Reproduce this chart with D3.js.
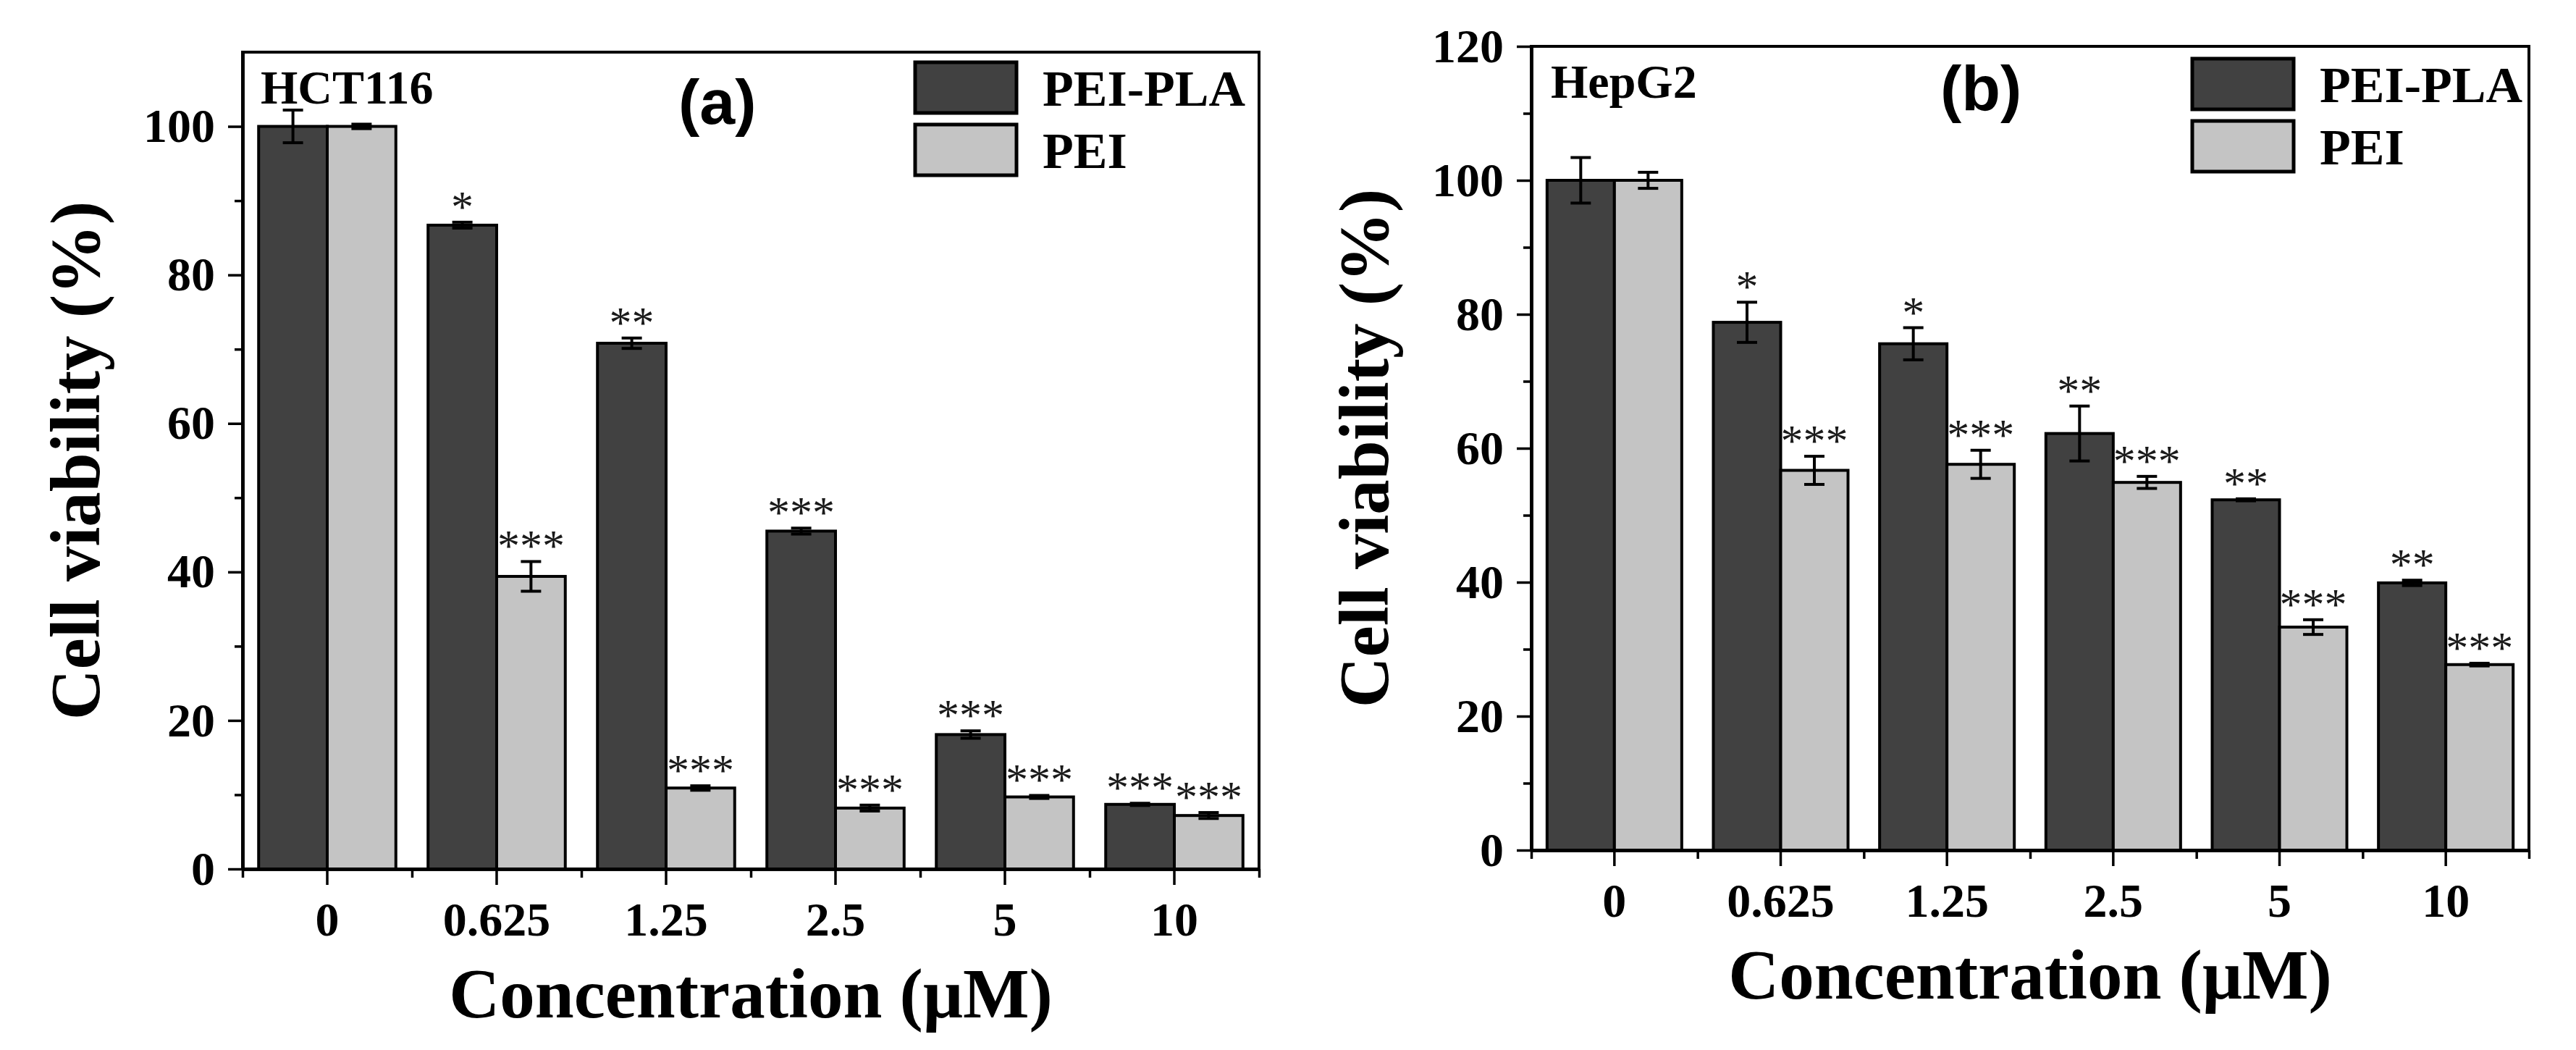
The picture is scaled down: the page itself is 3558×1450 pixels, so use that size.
<!DOCTYPE html>
<html>
<head>
<meta charset="utf-8">
<title>Cell viability</title>
<style>
  body { margin: 0; background: #fff; }
  svg { display: block; }
  .serif { font-family: "Liberation Serif", "Times New Roman", serif; }
</style>
</head>
<body>
<script src="https://cdnjs.cloudflare.com/ajax/libs/d3/7.8.5/d3.min.js"></script>
<script>

// ---- data ----
var concentrations = ["0", "0.625", "1.25", "2.5", "5", "10"];
var seriesNames = ["PEI-PLA", "PEI"];

// (a) HCT116
var hctPeiPla    = [100, 86.7, 70.8, 45.5, 18.1, 8.7];
var hctPeiPlaErr = [2.2, 0.4, 0.7, 0.4, 0.5, 0.15];
var hctPei       = [100, 39.4, 10.9, 8.2, 9.7, 7.2];
var hctPeiErr    = [0.3, 2.0, 0.3, 0.4, 0.2, 0.4];
var hctPeiPlaSig = ["", "*", "**", "***", "***", "***"];
var hctPeiSig    = ["", "***", "***", "***", "***", "***"];

// (b) HepG2
var hepPeiPla    = [100, 78.8, 75.6, 62.2, 52.3, 39.9];
var hepPeiPlaErr = [3.4, 3.0, 2.4, 4.1, 0.15, 0.4];
var hepPei       = [100, 56.7, 57.6, 54.9, 33.3, 27.7];
var hepPeiErr    = [1.2, 2.1, 2.1, 0.9, 1.1, 0.2];
var hepPeiPlaSig = ["", "*", "*", "**", "**", "**"];
var hepPeiSig    = ["", "***", "***", "***", "***", "***"];

var yTicksA = [0, 20, 40, 60, 80, 100];
var yTicksB = [0, 20, 40, 60, 80, 100, 120];

var colors = {"PEI-PLA": "#414141", "PEI": "#c4c4c4"};

var W = 3558, H = 1450;

var svg = d3.select("body").append("svg")
    .attr("width", W)
    .attr("height", H)
    .attr("class", "serif");

function rows(vals, errs, sigs, name) {
    return concentrations.map(function(c, i) {
        return {conc: c, series: name, v: vals[i], e: errs[i], sig: sigs[i]};
    });
}

function drawPanel(p) {
    var w = p.right - p.left, h = p.bottom - p.top;
    var g = svg.append("g").attr("transform", "translate(" + p.left + "," + p.top + ")");

    var x = d3.scaleBand()
        .domain(concentrations)
        .range([0, w])
        .paddingInner(0.19)
        .paddingOuter(0.095);
    var xs = d3.scaleBand()
        .domain(seriesNames)
        .range([0, x.bandwidth()]);
    var y = d3.scaleLinear()
        .domain([0, p.yMax])
        .range([h, 0]);

    var data = rows(p.a, p.aErr, p.aSig, seriesNames[0])
        .concat(rows(p.b, p.bErr, p.bSig, seriesNames[1]));

    // frame
    g.append("rect")
        .attr("x", 0).attr("y", 0)
        .attr("width", w).attr("height", h)
        .attr("fill", "none")
        .attr("stroke", "#000")
        .attr("stroke-width", 4);

    // bars
    g.selectAll("rect.bar")
        .data(data)
        .enter()
        .append("rect")
        .attr("class", "bar")
        .attr("x", function(d) { return x(d.conc) + xs(d.series); })
        .attr("y", function(d) { return y(d.v); })
        .attr("width", xs.bandwidth())
        .attr("height", function(d) { return h - y(d.v); })
        .attr("fill", function(d) { return colors[d.series]; })
        .attr("stroke", "#000")
        .attr("stroke-width", 4);

    // error bars
    var cx = function(d) { return x(d.conc) + xs(d.series) + xs.bandwidth() / 2; };
    var eb = g.selectAll("g.err")
        .data(data)
        .enter()
        .append("g")
        .attr("class", "err")
        .attr("stroke", "#000")
        .attr("stroke-width", 4);
    eb.append("line")
        .attr("x1", cx).attr("x2", cx)
        .attr("y1", function(d) { return y(d.v + d.e); })
        .attr("y2", function(d) { return y(d.v - d.e); });
    eb.append("line")
        .attr("x1", function(d) { return cx(d) - 14; })
        .attr("x2", function(d) { return cx(d) + 14; })
        .attr("y1", function(d) { return y(d.v + d.e); })
        .attr("y2", function(d) { return y(d.v + d.e); });
    eb.append("line")
        .attr("x1", function(d) { return cx(d) - 14; })
        .attr("x2", function(d) { return cx(d) + 14; })
        .attr("y1", function(d) { return y(d.v - d.e); })
        .attr("y2", function(d) { return y(d.v - d.e); });

    // significance stars
    g.selectAll("text.sig")
        .data(data)
        .enter()
        .append("text")
        .attr("class", "sig")
        .text(function(d) { return d.sig; })
        .attr("x", cx)
        .attr("y", function(d) { return y(d.v + d.e) - 1; })
        .attr("text-anchor", "middle")
        .attr("font-size", "62px")
        .attr("fill", "#1a1a1a");

    // y axis, major + minor ticks
    var yAxis = g.append("g")
        .call(d3.axisLeft(y).tickValues(p.yTicks).tickSize(20).tickSizeOuter(0).tickPadding(18));
    g.append("g")
        .call(d3.axisLeft(y).tickValues(d3.range(10, p.yMax, 20)).tickSize(11).tickSizeOuter(0).tickFormat(""));

    // x axis, major at categories + minor at boundaries
    var xAxis = g.append("g")
        .attr("transform", "translate(0," + h + ")")
        .call(d3.axisBottom(x).tickSize(22).tickSizeOuter(0).tickPadding(23));
    var xMinor = d3.scaleLinear().domain([0, concentrations.length]).range([0, w]);
    g.append("g")
        .attr("transform", "translate(0," + h + ")")
        .call(d3.axisBottom(xMinor).tickValues(d3.range(concentrations.length + 1)).tickSize(12).tickSizeOuter(0).tickFormat(""));

    g.selectAll(".domain").attr("stroke-width", 4.5).attr("stroke", "#000");
    g.selectAll(".tick line").attr("stroke-width", 3.5).attr("stroke", "#000");
    g.selectAll(".tick text")
        .attr("font-family", "Liberation Serif, serif")
        .attr("font-weight", "bold")
        .attr("font-size", "66px")
        .attr("fill", "#000");

    // axis titles
    g.append("text")
        .attr("transform", "translate(-198," + (h / 2) + ") rotate(-90)")
        .attr("text-anchor", "middle")
        .attr("font-weight", "bold")
        .attr("font-size", "97px")
        .text("Cell viability (%)");
    g.append("text")
        .attr("x", w / 2)
        .attr("y", h + 205)
        .attr("text-anchor", "middle")
        .attr("font-weight", "bold")
        .attr("font-size", "97px")
        .text("Concentration (\u03bcM)");

    // cell line and panel letter
    g.append("text")
        .attr("x", p.cellX).attr("y", 71)
        .attr("font-weight", "bold")
        .attr("font-size", "66px")
        .text(p.cell);
    g.append("text")
        .attr("x", p.letterX).attr("y", p.letterY)
        .attr("font-family", "Liberation Sans, Arial, sans-serif")
        .attr("font-weight", "bold")
        .attr("font-size", "88px")
        .text(p.letter);

    // legend
    var lg = g.append("g")
        .attr("transform", "translate(" + p.legX + "," + p.legY + ")");
    var item = lg.selectAll("g")
        .data(seriesNames)
        .enter()
        .append("g")
        .attr("transform", function(d, i) { return "translate(0," + (i * 86) + ")"; });
    item.append("rect")
        .attr("width", 140).attr("height", 70)
        .attr("fill", function(d) { return colors[d]; })
        .attr("stroke", "#000")
        .attr("stroke-width", 5);
    item.append("text")
        .attr("x", 176).attr("y", 60)
        .attr("font-weight", "bold")
        .attr("font-size", "70px")
        .text(function(d) { return d; });
}

drawPanel({
    left: 335, right: 1739, top: 72, bottom: 1200, yMax: 110, yTicks: yTicksA,
    a: hctPeiPla, aErr: hctPeiPlaErr, aSig: hctPeiPlaSig,
    b: hctPei, bErr: hctPeiErr, bSig: hctPeiSig,
    cell: "HCT116", cellX: 25, letter: "(a)", letterX: 602, letterY: 99,
    legX: 929, legY: 14
});

drawPanel({
    left: 2115, right: 3493, top: 64, bottom: 1174, yMax: 120, yTicks: yTicksB,
    a: hepPeiPla, aErr: hepPeiPlaErr, aSig: hepPeiPlaSig,
    b: hepPei, bErr: hepPeiErr, bSig: hepPeiSig,
    cell: "HepG2", cellX: 27, letter: "(b)", letterX: 565, letterY: 88,
    legX: 913, legY: 17
});

</script>
</body>
</html>
